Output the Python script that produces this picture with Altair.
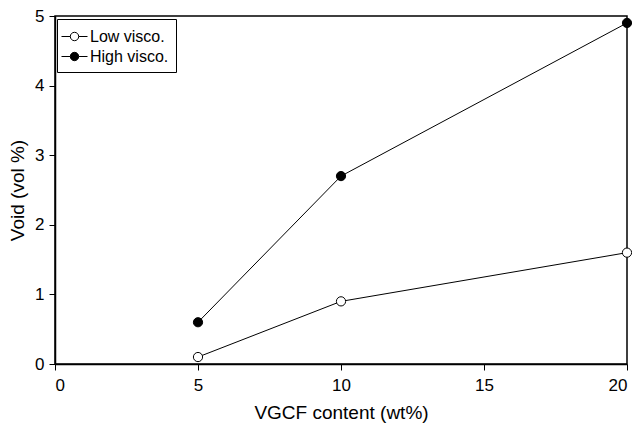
import altair as alt
import pandas as pd

series = ["Low visco.", "High visco."]
vgcf = [5, 10, 20]
low_visco = [0.1, 0.9, 1.6]
high_visco = [0.6, 2.7, 4.9]
x_ticks = [0, 5, 10, 15, 20]
y_ticks = [0, 1, 2, 3, 4, 5]
fills = ["white", "black"]

rows = []
for name, vals in zip(series, [low_visco, high_visco]):
    for xv, yv in zip(vgcf, vals):
        rows.append({"series": name, "vgcf": xv, "void": yv})
df = pd.DataFrame(rows)

FONT = "Liberation Sans"
legend_path = "M-1.3,0L-0.42,0M0.42,0L1.3,0M-0.42,0A0.42,0.42,0,1,1,0.42,0A0.42,0.42,0,1,1,-0.42,0Z"

x_enc = alt.X(
    "vgcf:Q",
    scale=alt.Scale(domain=[0, 20], nice=False, zero=False),
    axis=alt.Axis(values=x_ticks, title="VGCF content (wt%)", format="d"),
)
y_enc = alt.Y(
    "void:Q",
    scale=alt.Scale(domain=[0, 5], nice=False),
    axis=alt.Axis(values=y_ticks, title="Void (vol %)", format="d"),
)

legend_def = alt.Legend(
    title=None,
    orient="none",
    legendX=2,
    legendY=3,
    strokeColor="black",
    fillColor="white",
    padding=7,
    labelFont=FONT,
    labelFontSize=16,
    labelColor="black",
    labelOffset=5,
    rowPadding=1,
    symbolSize=400,
    symbolStrokeWidth=1,
    symbolStrokeColor="black",
    symbolOpacity=1,
)

base = alt.Chart(df)

lines = base.mark_line(color="black", strokeWidth=1).encode(
    x=x_enc, y=y_enc, detail="series:N"
)

point_layers = []
for name, fc in zip(series, fills):
    point_layers.append(
        base.transform_filter(alt.datum.series == name)
        .mark_point(shape="circle", size=85, filled=True, fill=fc,
                    stroke="black", strokeWidth=1, opacity=1)
        .encode(x=x_enc, y=y_enc)
    )

legend_layer = (
    base.transform_filter("false")
    .mark_point(size=400, filled=True, strokeWidth=1, opacity=1)
    .encode(
        x=x_enc,
        y=y_enc,
        fill=alt.Fill("series:N", scale=alt.Scale(domain=series, range=fills), legend=legend_def),
        stroke=alt.Stroke("series:N", scale=alt.Scale(domain=series, range=["black", "black"]), legend=legend_def),
        shape=alt.Shape(
            "series:N",
            scale=alt.Scale(domain=series, range=[legend_path, legend_path]),
            legend=legend_def,
        ),
    )
)

chart = (
    alt.layer(lines, *point_layers, legend_layer)
    .properties(
        width=572,
        height=348,
        autosize=alt.AutoSizeParams(type="none"),
        padding={"left": 47, "top": 8, "right": 5, "bottom": 60},
    )
    .configure_view(stroke="black", strokeWidth=1.5)
    .configure_axis(
        grid=False,
        domainColor="black",
        domainWidth=1.5,
        tickColor="black",
        tickWidth=1,
        tickSize=6,
        labelFont=FONT,
        labelFontSize=17,
        labelColor="black",
        titleFont=FONT,
        titleFontSize=19,
        titleFontWeight="normal",
        titleColor="black",
    )
    .configure_axisX(labelPadding=7, titlePadding=10)
    .configure_axisY(labelPadding=5, titlePadding=7)
)

chart.save("out.html", embed_options={"renderer": "svg", "actions": False})
